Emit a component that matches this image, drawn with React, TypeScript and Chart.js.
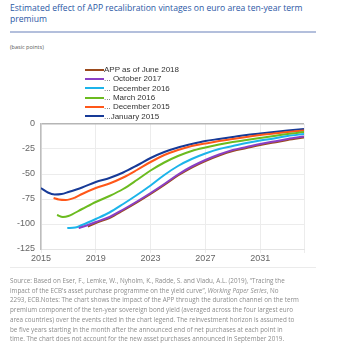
import React, { useEffect, useRef } from "react";
import { Chart, registerables } from "chart.js";
Chart.register(...registerables);

const seriesLabels = [
  "APP as of June 2018",
  "... October 2017",
  "... December 2016",
  "... March 2016",
  "... December 2015",
  "...January 2015",
];
const seriesColors = ["#9b4a1c", "#8a3fc6", "#1cb4ea", "#6bbb1f", "#ff5719", "#173a97"];

const jun2018Years = [2018.42, 2019, 2020, 2021, 2022, 2023, 2024, 2025, 2026, 2027, 2028, 2029, 2030, 2031, 2032, 2033, 2034.2];
const jun2018Values = [-102.5, -99, -94, -86.5, -78.5, -70, -61, -51.5, -43.5, -37, -31.5, -27, -24, -21, -18.5, -16, -13.5];

const oct2017Years = [2017.75, 2018, 2019, 2020, 2021, 2022, 2023, 2024, 2025, 2026, 2027, 2028, 2029, 2030, 2031, 2032, 2033, 2034.2];
const oct2017Values = [-104, -103, -98, -93, -85.5, -77.5, -69, -60, -50.5, -42.5, -36, -30.5, -26, -23, -20, -17.5, -15, -12.5];

const dec2016Years = [2016.92, 2017.5, 2018, 2019, 2020, 2021, 2022, 2023, 2024, 2025, 2026, 2027, 2028, 2029, 2030, 2031, 2032, 2033, 2034.2];
const dec2016Values = [-104, -103.5, -101, -95, -88.5, -80, -71, -61.5, -51, -42, -35, -29.5, -25, -22, -19, -16.5, -14.5, -12, -10];

const mar2016Years = [2016.17, 2016.6, 2017, 2018, 2019, 2020, 2021, 2022, 2023, 2024, 2025, 2026, 2027, 2028, 2029, 2030, 2031, 2032, 2033, 2034.2];
const mar2016Values = [-91, -93, -92, -85, -78, -72, -65, -56, -46.5, -38.5, -32, -27, -23.5, -20.5, -18, -16, -14, -12, -10, -8];

const dec2015Years = [2015.92, 2016.3, 2016.8, 2017.5, 2018, 2019, 2020, 2021, 2022, 2023, 2024, 2025, 2026, 2027, 2028, 2029, 2030, 2031, 2032, 2033, 2034.2];
const dec2015Values = [-74, -75.5, -76, -73.5, -70, -64, -59.5, -53.5, -46, -38, -31, -26, -22, -19.5, -17, -15, -13, -11, -9.5, -8, -6.5];

const jan2015Years = [2015.0, 2015.5, 2016.0, 2016.5, 2017, 2018, 2019, 2020, 2021, 2022, 2023, 2024, 2025, 2026, 2027, 2028, 2029, 2030, 2031, 2032, 2033, 2034.2];
const jan2015Values = [-64, -68.5, -70.5, -70, -68, -63.5, -58, -54, -48.5, -41.5, -34, -28, -23.5, -20, -17, -15, -13, -11, -9.5, -8, -6.5, -5];

const seriesYears = [jun2018Years, oct2017Years, dec2016Years, mar2016Years, dec2015Years, jan2015Years];
const seriesValues = [jun2018Values, oct2017Values, dec2016Values, mar2016Values, dec2015Values, jan2015Values];

const xTicks = [2015, 2019, 2023, 2027, 2031];
const xMin = 2015;
const xMax = 2034.2;
const yMin = -125;
const yMax = 0;
const yStep = 25;

const titleText = "Estimated effect of APP recalibration vintages on euro area ten-year term premium";
const unitText = "(basic points)";
const sourceLines: React.ReactNode[] = [
  "Source: Based on Eser, F., Lemke, W., Nyholm, K., Radde, S. and Vladu, A.L. (2019), \u201cTracing the",
  <>
    {"impact of the ECB's asset purchase programme on the yield curve\u201d, "}
    <i>Working Paper Series</i>
    {", No"}
  </>,
  "2293, ECB.Notes: The chart shows the impact of the APP through the duration channel on the term",
  "premium component of the ten-year sovereign bond yield (averaged across the four largest euro",
  "area countries) over the events cited in the chart legend. The reinvestment horizon is assumed to",
  "be five years starting in the month after the announced end of net purchases at each point in",
  "time. The chart does not account for the new asset purchases announced in September 2019.",
];

export default function App() {
  const ref = useRef<HTMLCanvasElement>(null);
  useEffect(() => {
    if (!ref.current) return;
    const chart = new Chart(ref.current, {
      type: "line",
      data: {
        datasets: seriesLabels.map((label, i) => ({
          label,
          data: seriesYears[i].map((x, j) => ({ x, y: seriesValues[i][j] })),
          borderColor: seriesColors[i],
          backgroundColor: seriesColors[i],
          borderWidth: 2,
          pointRadius: 0,
          cubicInterpolationMode: "monotone" as const,
          fill: false,
          order: i === 0 ? 1 : 0,
        })),
      },
      options: {
        animation: false,
        responsive: false,
        maintainAspectRatio: false,
        layout: { padding: { left: 0, top: 24, right: 16, bottom: 0 } },
        plugins: { legend: { display: false }, tooltip: { enabled: false } },
        scales: {
          x: {
            type: "linear",
            min: xMin,
            max: xMax,
            afterBuildTicks: (scale: any) => {
              scale.ticks = [...xTicks, xMax].map((v) => ({ value: v }));
            },
            afterFit: (scale: any) => {
              scale.height = 21;
            },
            ticks: {
              autoSkip: false,
              maxRotation: 0,
              padding: 0,
              color: "#666",
              font: { family: "'Liberation Sans', Arial, sans-serif", size: 9 },
              callback: (v: any) => (xTicks.includes(v) ? String(v) : ""),
            },
            grid: { color: "#ececec", lineWidth: 1, tickLength: 4, drawTicks: true },
            border: { color: "#e4e4e4", width: 1 },
          },
          y: {
            min: yMin,
            max: yMax,
            afterFit: (scale: any) => {
              scale.width = 41;
            },
            ticks: {
              stepSize: yStep,
              padding: 6,
              color: "#666",
              font: { family: "'Liberation Sans', Arial, sans-serif", size: 9 },
            },
            grid: {
              color: (ctx: any) => (ctx.tick && ctx.tick.value === 0 ? "#b5b5b5" : "#ececec"),
              lineWidth: (ctx: any) => (ctx.tick && ctx.tick.value === 0 ? 1.5 : 1),
              drawTicks: false,
            },
            border: { color: "#bdbdbd", width: 1.5 },
          },
        },
      },
    });
    return () => chart.destroy();
  }, []);

  return (
    <div style={{ position: "absolute", left: 0, top: 0, width: 360, height: 354, background: "#fff", overflow: "hidden" }}>
      <div
        style={{
          position: "absolute",
          left: 10,
          top: 3,
          width: 305,
          color: "#2b58a5",
          fontFamily: "'Open Sans', sans-serif",
          fontSize: 8.6,
          lineHeight: "11px",
        }}
      >
        {titleText}
      </div>
      <div style={{ position: "absolute", left: 10, top: 31, width: 306, height: 2, background: "#b3bfdc" }} />
      <div
        style={{
          position: "absolute",
          left: 10,
          top: 43,
          color: "#555",
          fontFamily: "'Open Sans', sans-serif",
          fontSize: 5.5,
          lineHeight: "8px",
        }}
      >
        {unitText}
      </div>
      <canvas ref={ref} width={320} height={170} style={{ position: "absolute", left: 0, top: 100, width: 320, height: 170 }} />
      <div style={{ position: "absolute", left: 85, top: 65 }}>
        {seriesLabels.map((label, i) => (
          <div key={label} style={{ display: "flex", alignItems: "center", height: 9.3 }}>
            <span style={{ display: "inline-block", width: 19, height: 2, background: seriesColors[i] }} />
            <span
              style={{
                fontFamily: "'Liberation Sans', Arial, sans-serif",
                fontSize: 8,
                color: "#333",
                whiteSpace: "nowrap",
                lineHeight: "9px",
              }}
            >
              {label}
            </span>
          </div>
        ))}
      </div>
      <div style={{ position: "absolute", left: 10, top: 267, width: 306, height: 1, background: "#ebebeb" }} />
      <div
        style={{
          position: "absolute",
          left: 10,
          top: 276,
          color: "#8c8c8c",
          fontFamily: "'Open Sans', sans-serif",
          fontSize: 6.3,
          lineHeight: "9.7px",
        }}
      >
        {sourceLines.map((l, i) => (
          <div key={i} style={{ whiteSpace: "nowrap" }}>
            {l}
          </div>
        ))}
      </div>
    </div>
  );
}
